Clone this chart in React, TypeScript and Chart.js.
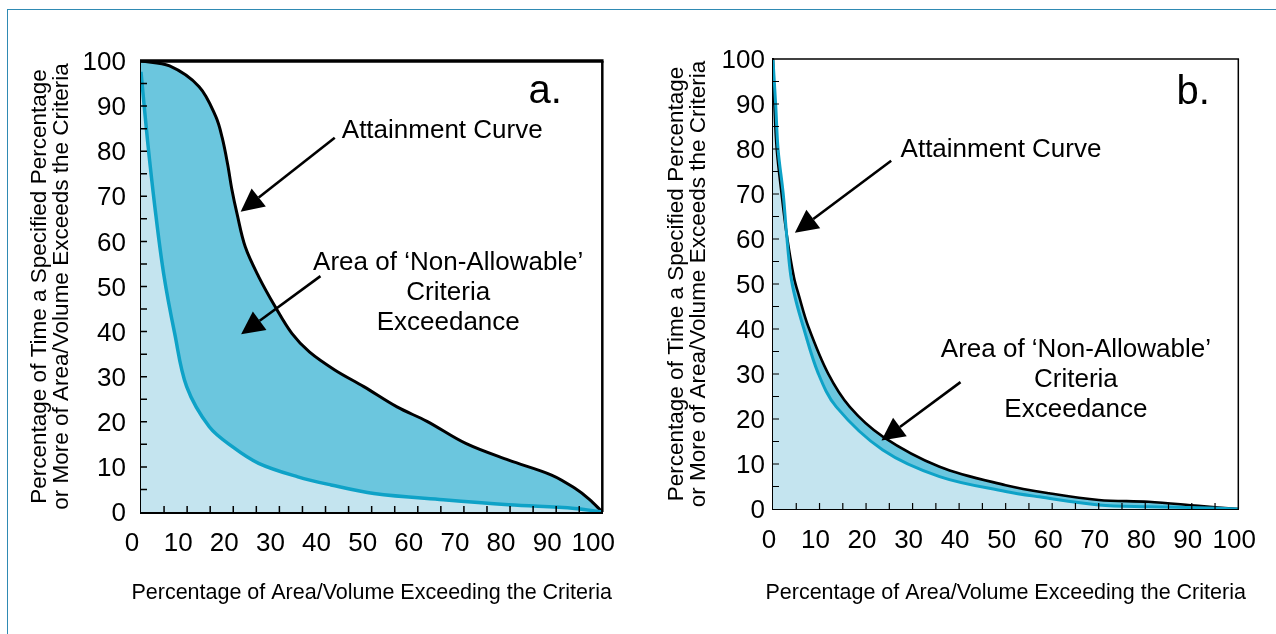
import React, { useEffect, useRef } from "react";
import { Chart, registerables } from "chart.js";

Chart.register(...registerables);

// ---------- Panel a data ----------
const aAttainX = [0, 6.2, 12.6, 16.2, 17.6, 18.8, 19.7, 20.8, 22.6, 25.5, 29.1, 32.7, 36.5, 42, 48.3, 55.5, 62, 70.4, 79.7, 89, 94, 97.2, 100];
const aAttainY = [100, 98.9, 94.3, 87.7, 83, 77, 71.5, 66.2, 58.8, 52.2, 45.5, 39.6, 35.5, 31.5, 27.8, 23.3, 20.1, 15.2, 11.5, 8.2, 5.3, 2.8, 0];
const aLowerX = [0, 1.4, 3.0, 4.9, 7.3, 9.9, 14.8, 19.8, 25.5, 34, 41.2, 50.5, 65.5, 79.7, 94, 100];
const aLowerY = [97.6, 82.5, 67.7, 52.9, 39.6, 27.8, 18.9, 14.5, 10.8, 7.8, 6, 4.1, 2.7, 1.6, 0.8, 0];

// ---------- Panel b data ----------
const bAttainX = [0, 0.3, 0.8, 1.85, 2.9, 4.5, 5.6, 7.6, 11.8, 16.5, 23.6, 35.8, 50, 59.3, 70, 80.7, 91.4, 100];
const bAttainY = [100, 90, 80, 70, 61.3, 51.5, 47.3, 40.5, 30.2, 22.7, 16.1, 9.4, 5.3, 3.5, 2, 1.6, 0.7, 0];
const bLowerX = [0, 0.6, 1.1, 2.2, 2.9, 3.8, 4.8, 6.5, 9.7, 13.6, 23.6, 35.8, 50, 57.2, 70, 80.7, 91.4, 100];
const bLowerY = [99.8, 89.4, 79.8, 70, 61.3, 52, 46.8, 40.5, 30.2, 22.7, 13.1, 7.2, 3.9, 2.7, 0.9, 0.5, 0.3, 0];

// ---------- Ticks ----------
const tickValues = [0, 10, 20, 30, 40, 50, 60, 70, 80, 90, 100];
const tickLabels = ["0", "10", "20", "30", "40", "50", "60", "70", "80", "90", "100"];
const minorTickValues = [5, 10, 15, 20, 25, 30, 35, 40, 45, 50, 55, 60, 65, 70, 75, 80, 85, 90, 95];

// ---------- Text ----------
const yTitleLines = ["Percentage of Time a Specified Percentage", "or More of Area/Volume Exceeds the Criteria"];
const xTitleText = "Percentage of Area/Volume Exceeding the Criteria";
const attainText = "Attainment Curve";
const areaLines = ["Area of \u2018Non-Allowable\u2019", "Criteria", "Exceedance"];

// ---------- Annotation anchors (data coordinates) ----------
const aPanelLabel = "a.";
const aLabelPos = [87.6, 90.7];
const aAttainTextPos = [65.3, 83.0];
const aAttainArrow = [42.0, 83.0, 21.6, 66.6];
const aAreaTextPos = [66.6, 53.7];
const aAreaArrow = [38.9, 52.3, 21.7, 39.4];

const bPanelLabel = "b.";
const bLabelPos = [90.3, 90.0];
const bAttainTextPos = [49.0, 78.2];
const bAttainArrow = [25.4, 77.4, 4.7, 61.4];
const bAreaTextPos = [65.1, 33.8];
const bAreaArrow = [40.3, 28.2, 23.3, 15.2];

const FONT = "'Liberation Sans', Arial, Helvetica, sans-serif";
const LIGHT = "#c4e4ef";
const DARK = "#6bc6de";
const BLUE = "#0ea2c7";

type Spec = {
  width: number;
  attX: number[]; attY: number[]; lowX: number[]; lowY: number[];
  label: string; labelPos: number[];
  attainPos: number[]; attainArrow: number[];
  areaPos: number[]; areaArrow: number[];
  top: number; right: number; yAxisW: number; xAxisH: number; yTitlePad: number; yLabelPad: number;
  xLabelOffset: number; axisW: number; topW: number; rightW: number; blackW: number; blueW: number; tickW: number;
};

function drawArrow(ctx: CanvasRenderingContext2D, x1: number, y1: number, x2: number, y2: number) {
  const ang = Math.atan2(y2 - y1, x2 - x1);
  const headLen = 23;
  const headW = 23;
  const bx = x2 - headLen * Math.cos(ang);
  const by = y2 - headLen * Math.sin(ang);
  ctx.save();
  ctx.strokeStyle = "#000";
  ctx.fillStyle = "#000";
  ctx.lineWidth = 2.6;
  ctx.beginPath();
  ctx.moveTo(x1, y1);
  ctx.lineTo(bx, by);
  ctx.stroke();
  const nx = -Math.sin(ang) * headW / 2;
  const ny = Math.cos(ang) * headW / 2;
  ctx.beginPath();
  ctx.moveTo(x2, y2);
  ctx.lineTo(bx + nx, by + ny);
  ctx.lineTo(bx - nx, by - ny);
  ctx.closePath();
  ctx.fill();
  ctx.restore();
}

function makePlugin(p: Spec) {
  return {
    id: "panelDecor",
    afterDraw(chart: any) {
      const { ctx, chartArea: ca, scales } = chart;
      const xs = scales.x;
      const ys = scales.y;
      const px = (v: number) => xs.getPixelForValue(v);
      const py = (v: number) => ys.getPixelForValue(v);
      ctx.save();
      ctx.strokeStyle = "#000";
      ctx.lineWidth = p.topW;
      ctx.beginPath();
      ctx.moveTo(ca.left - 1, ca.top);
      ctx.lineTo(ca.right + p.rightW / 2, ca.top);
      ctx.stroke();
      ctx.lineWidth = p.rightW;
      ctx.beginPath();
      ctx.moveTo(ca.right, ca.top);
      ctx.lineTo(ca.right, ca.bottom);
      ctx.stroke();
      ctx.lineWidth = p.tickW;
      ctx.beginPath();
      for (const v of minorTickValues) {
        const x = px(v);
        ctx.moveTo(x, ca.bottom);
        ctx.lineTo(x, ca.bottom - 6);
        const y = py(v);
        ctx.moveTo(ca.left, y);
        ctx.lineTo(ca.left + 6, y);
      }
      ctx.stroke();
      ctx.fillStyle = "#000";
      ctx.font = `21.5px ${FONT}`;
      ctx.textAlign = "center";
      ctx.textBaseline = "middle";
      ctx.fillText(xTitleText, (ca.left + ca.right) / 2, xs.bottom - 13);
      ctx.textBaseline = "alphabetic";
      ctx.font = `40px ${FONT}`;
      ctx.fillText(p.label, px(p.labelPos[0]), py(p.labelPos[1]));
      ctx.font = `26px ${FONT}`;
      ctx.fillText(attainText, px(p.attainPos[0]), py(p.attainPos[1]));
      const ax = px(p.areaPos[0]);
      const ay = py(p.areaPos[1]);
      areaLines.forEach((t, i) => ctx.fillText(t, ax, ay + i * 30));
      ctx.restore();
      drawArrow(ctx, px(p.attainArrow[0]), py(p.attainArrow[1]), px(p.attainArrow[2]), py(p.attainArrow[3]));
      drawArrow(ctx, px(p.areaArrow[0]), py(p.areaArrow[1]), px(p.areaArrow[2]), py(p.areaArrow[3]));
    },
  };
}

function makeConfig(p: Spec): any {
  const toPts = (xs: number[], ys: number[]) => xs.map((x, i) => ({ x, y: ys[i] }));
  const tickFont = { family: FONT, size: 26 };
  return {
    type: "line",
    data: {
      datasets: [
        {
          data: toPts(p.lowX, p.lowY),
          borderColor: BLUE,
          borderWidth: p.blueW,
          backgroundColor: LIGHT,
          fill: "origin",
          pointRadius: 0,
          tension: 0.35,
        },
        {
          data: toPts(p.attX, p.attY),
          borderColor: "#000",
          borderWidth: p.blackW,
          backgroundColor: DARK,
          fill: "-1",
          pointRadius: 0,
          tension: 0.35,
        },
      ],
    },
    options: {
      responsive: false,
      animation: false,
      devicePixelRatio: 1,
      events: [],
      layout: { padding: { left: 20, top: p.top, right: p.right, bottom: 28 } },
      plugins: {
        legend: { display: false },
        tooltip: { enabled: false },
        filler: { drawTime: "beforeDatasetsDraw" },
      },
      scales: {
        x: {
          type: "linear",
          min: 0,
          max: 100,
          grid: { display: false, drawTicks: false },
          border: { display: true, width: p.axisW, color: "#000" },
          afterBuildTicks: (s: any) => { s.ticks = tickValues.map((v) => ({ value: v })); },
          ticks: {
            autoSkip: false,
            maxRotation: 0,
            minRotation: 0,
            padding: 16,
            labelOffset: p.xLabelOffset,
            color: "#000",
            font: tickFont,
            callback: (_v: any, i: number) => tickLabels[i],
          },
          afterFit: (s: any) => { s.height = p.xAxisH; },
        },
        y: {
          type: "linear",
          min: 0,
          max: 100,
          grid: { display: false, drawTicks: false },
          border: { display: true, width: p.axisW, color: "#000" },
          afterBuildTicks: (s: any) => { s.ticks = tickValues.map((v) => ({ value: v })); },
          ticks: {
            autoSkip: false,
            padding: p.yLabelPad,
            labelOffset: 2,
            color: "#000",
            font: tickFont,
            callback: (_v: any, i: number) => tickLabels[i],
          },
          title: {
            display: true,
            text: yTitleLines,
            color: "#000",
            font: { family: FONT, size: 22.5, lineHeight: "22px" },
            padding: { top: p.yTitlePad, bottom: 0 },
          },
          afterFit: (s: any) => { s.width = p.yAxisW; },
        },
      },
    },
    plugins: [makePlugin(p)],
  };
}

const specA: Spec = {
  width: 640,
  attX: aAttainX, attY: aAttainY, lowX: aLowerX, lowY: aLowerY,
  label: aPanelLabel, labelPos: aLabelPos,
  attainPos: aAttainTextPos, attainArrow: aAttainArrow,
  areaPos: aAreaTextPos, areaArrow: aAreaArrow,
  top: 61, right: 32, yAxisW: 121, xAxisH: 94, yTitlePad: 9, yLabelPad: 15,
  xLabelOffset: -9, axisW: 3, topW: 3.5, rightW: 2.5, blackW: 3, blueW: 3.5, tickW: 1.5,
};

const specB: Spec = {
  width: 636,
  attX: bAttainX, attY: bAttainY, lowX: bLowerX, lowY: bLowerY,
  label: bPanelLabel, labelPos: bLabelPos,
  attainPos: bAttainTextPos, attainArrow: bAttainArrow,
  areaPos: bAreaTextPos, areaArrow: bAreaArrow,
  top: 59, right: 36, yAxisW: 113, xAxisH: 97, yTitlePad: 6, yLabelPad: 8,
  xLabelOffset: -4, axisW: 2, topW: 1.5, rightW: 1.5, blackW: 2.6, blueW: 3, tickW: 1.2,
};

function Panel({ spec, left }: { spec: Spec; left: number }) {
  const ref = useRef<HTMLCanvasElement>(null);
  useEffect(() => {
    const chart = new Chart(ref.current as HTMLCanvasElement, makeConfig(spec));
    return () => chart.destroy();
  }, [spec]);
  return (
    <canvas
      ref={ref}
      width={spec.width}
      height={634}
      style={{ position: "absolute", left, top: 0, width: spec.width, height: 634 }}
    />
  );
}

export default function App() {
  return (
    <div
      style={{
        position: "fixed",
        left: 0,
        top: 0,
        width: 1276,
        height: 634,
        overflow: "hidden",
        background: "#fff",
      }}
    >
      <div
        style={{
          position: "absolute",
          left: 7,
          top: 9,
          width: 2000,
          height: 2000,
          borderTop: "1px solid #2f8ab3",
          borderLeft: "1px solid #2f8ab3",
        }}
      />
      <Panel spec={specA} left={0} />
      <Panel spec={specB} left={640} />
    </div>
  );
}
